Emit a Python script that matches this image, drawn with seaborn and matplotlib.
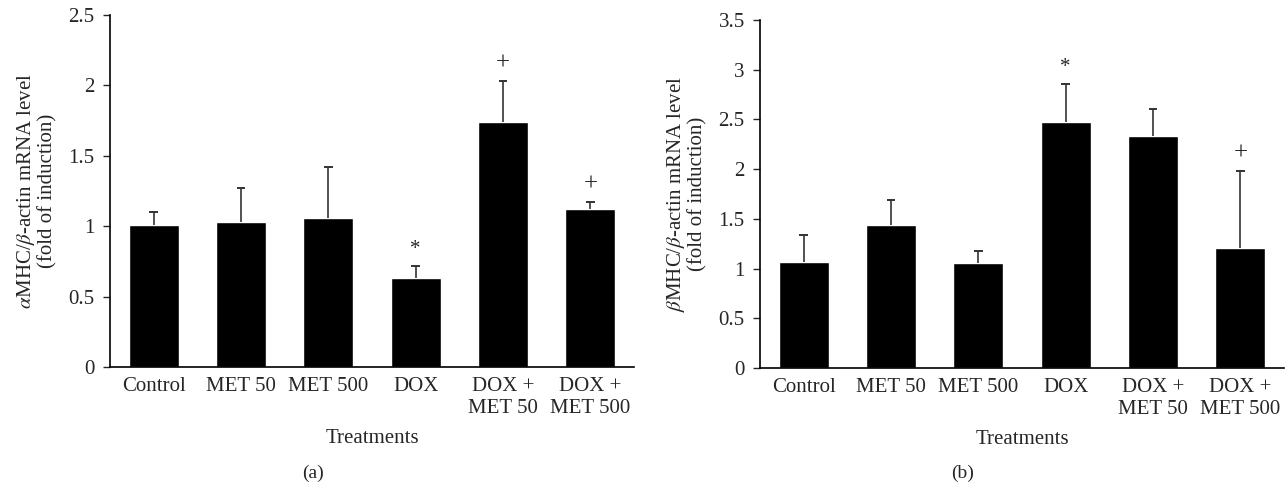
import numpy as np
import pandas as pd
import matplotlib
matplotlib.use('Agg')
import matplotlib.pyplot as plt
import seaborn as sns

treatments = ['Control', 'MET 50', 'MET 500', 'DOX', 'DOX +\nMET 50', 'DOX +\nMET 500']

alpha_mean = [1.01, 1.03, 1.06, 0.63, 1.74, 1.12]
alpha_upper = [1.10, 1.27, 1.42, 0.72, 2.03, 1.17]
alpha_marks = ['', '', '', '*', '+', '+']

beta_mean = [1.07, 1.44, 1.06, 2.47, 2.33, 1.21]
beta_upper = [1.34, 1.69, 1.18, 2.86, 2.60, 1.98]
beta_marks = ['', '', '', '*', '', '+']

sns.set_style('ticks')
plt.rcParams['font.family'] = ['Liberation Serif', 'DejaVu Serif']
plt.rcParams['mathtext.fontset'] = 'stix'

W, H = 1285, 490
fig = plt.figure(figsize=(W / 100, H / 100), dpi=100)
ax_a = fig.add_axes([110 / W, (H - 367) / H, 524 / W, 352 / H])
ax_b = fig.add_axes([760 / W, (H - 368) / H, 524 / W, 348 / H])


def draw_panel(ax, mean, upper, marks, ymax, ylabel):
    df = pd.DataFrame({'treatment': treatments, 'value': mean})
    sns.barplot(df, x='treatment', y='value', color='black', width=0.57,
                errorbar=None, ax=ax, saturation=1)
    x = np.arange(len(mean))
    ax.vlines(x, mean, upper, color='#333333', lw=1.2, zorder=3)
    ax.hlines(upper, x - 0.05, x + 0.05, color='#333333', lw=1.4, zorder=3)
    for xi, u, m in zip(x, upper, marks):
        if m:
            ax.text(xi, u + ymax * 0.02, m, ha='center', va='bottom',
                    fontsize=18 if m == '+' else 15)
    ax.set_xlim(-0.5, len(mean) - 0.5)
    ax.set_ylim(0, ymax)
    ticks = np.arange(0, ymax + 0.01, 0.5)
    ax.set_yticks(ticks)
    ax.set_yticklabels([f'{v:g}' for v in ticks])
    ax.tick_params(axis='x', length=0, labelsize=15, pad=7)
    ax.tick_params(axis='y', length=5, width=1, labelsize=15, direction='out', pad=6)
    ax.set_xlabel('Treatments', fontsize=15, labelpad=8)
    ax.set_ylabel(ylabel, fontsize=15, linespacing=1.05, labelpad=8)
    for s in ['top', 'right']:
        ax.spines[s].set_visible(False)
    for s in ['left', 'bottom']:
        ax.spines[s].set_linewidth(1.2)
        ax.spines[s].set_color('black')


draw_panel(ax_a, alpha_mean, alpha_upper, alpha_marks, 2.5,
           '$\\alpha$MHC/$\\beta$-actin mRNA level\n(fold of induction)')
draw_panel(ax_b, beta_mean, beta_upper, beta_marks, 3.5,
           '$\\beta$MHC/$\\beta$-actin mRNA level\n(fold of induction)')

fig.text(313 / W, 1 - 478 / H, '(a)', ha='center', fontsize=14)
fig.text(963 / W, 1 - 478 / H, '(b)', ha='center', fontsize=14)

fig.savefig('out.png', dpi=100)
